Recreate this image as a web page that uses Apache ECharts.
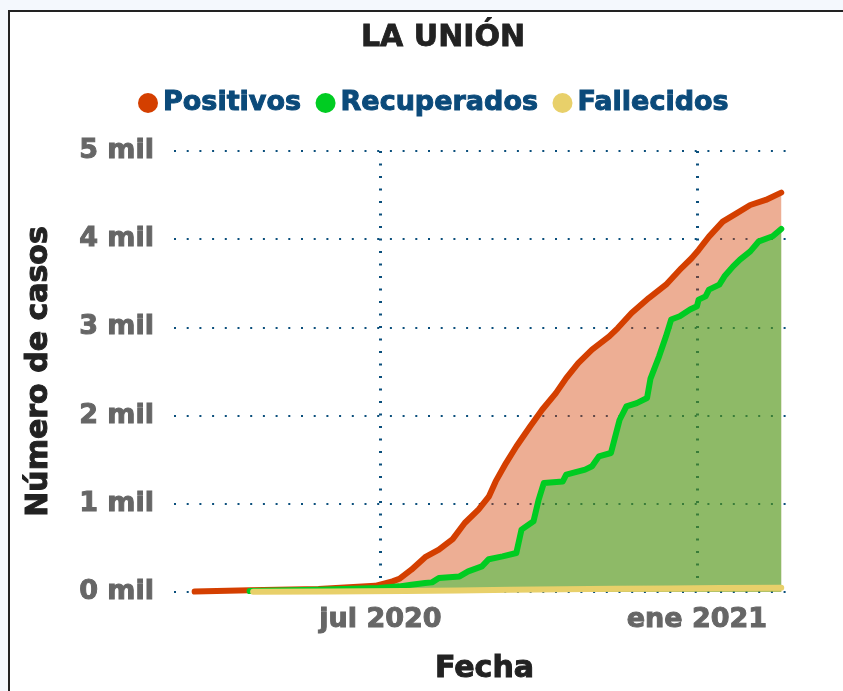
<!DOCTYPE html>
<html>
<head>
<meta charset="utf-8">
<script src="https://cdn.jsdelivr.net/npm/echarts@6/dist/echarts.min.js"></script>
<style>
html,body{margin:0;padding:0;background:#f4f8fd;}
#chart{width:843px;height:691px;}
</style>
</head>
<body>
<div id="chart"></div>
<script>
// datos (casos acumulados)
var posDates = ['2020-03-15','2020-04-16','2020-05-26','2020-06-28','2020-07-08','2020-07-12','2020-07-19','2020-07-27','2020-08-04','2020-08-12','2020-08-19','2020-08-27','2020-09-02','2020-09-06','2020-09-12','2020-09-18','2020-09-26','2020-10-03','2020-10-11','2020-10-17','2020-10-24','2020-11-01','2020-11-11','2020-11-16','2020-11-24','2020-12-04','2020-12-14','2020-12-23','2020-12-29','2021-01-02','2021-01-08','2021-01-16','2021-01-24','2021-02-01','2021-02-10','2021-02-19'];
var posVals = [5,20,35,70,120,150,253,395,480,600,782,933,1081,1254,1462,1650,1877,2066,2255,2425,2595,2747,2897,2993,3163,3333,3484,3673,3787,3878,4029,4199,4293,4388,4445,4528];

var recDates = ['2020-04-16','2020-05-26','2020-06-30','2020-07-12','2020-07-19','2020-07-27','2020-07-31','2020-08-04','2020-08-16','2020-08-21','2020-08-29','2020-09-02','2020-09-10','2020-09-18','2020-09-21','2020-09-28','2020-10-01','2020-10-04','2020-10-15','2020-10-17','2020-10-28','2020-11-01','2020-11-05','2020-11-12','2020-11-14','2020-11-17','2020-11-21','2020-11-27','2020-12-03','2020-12-05','2020-12-10','2020-12-14','2020-12-17','2020-12-22','2020-12-28','2021-01-01','2021-01-02','2021-01-06','2021-01-08','2021-01-14','2021-01-17','2021-01-22','2021-01-26','2021-02-01','2021-02-06','2021-02-14','2021-02-19'];
var recVals = [10,25,45,64,83,102,109,159,177,234,291,372,404,442,707,802,1048,1237,1254,1330,1387,1425,1538,1576,1727,1950,2104,2142,2199,2420,2672,2899,3089,3126,3202,3239,3315,3352,3428,3485,3579,3692,3768,3862,3976,4033,4116];

var falDates = ['2020-04-18','2020-06-01','2020-07-15','2020-08-15','2020-09-15','2020-10-15','2020-11-15','2020-12-15','2021-01-15','2021-02-19'];
var falVals = [2,5,10,18,25,31,36,40,44,48];

var xTicks = ['2020-07-01','2021-01-01'];
var xTickLabels = ['jul 2020','ene 2021'];
var yTicks = [0,1000,2000,3000,4000,5000];

function ts(s){
    var p = s.split('-');
    return new Date(+p[0], +p[1]-1, +p[2]).getTime();
}
function zip(d, v){
    var out = [];
    for(let i in d){
        out.push([ts(d[i]), v[i]]);
    }
    return out;
}

var font = 'DejaVu Sans';
var tickTs = xTicks.map(ts);

let chart = echarts.init(document.getElementById("chart"));

option = {
    backgroundColor: '#f4f8fd',
    animation: false,
    graphic: [{
        type: 'rect',
        z: -10,
        shape: {x: 9, y: 11, width: 900, height: 700},
        style: {fill: '#ffffff', stroke: '#222222', lineWidth: 2}
    }],
    title: {
        text: 'LA UNIÓN',
        left: 438,
        top: 18,
        textAlign: 'center',
        textStyle: {fontFamily: font, fontWeight: 'bold', fontSize: 30, color: '#222222',
            textBorderColor: '#222222', textBorderWidth: 0.8}
    },
    legend: {
        data: ['Positivos','Recuperados','Fallecidos'],
        left: 133,
        top: 84,
        icon: 'circle',
        itemWidth: 20,
        itemHeight: 20,
        itemGap: 14,
        textStyle: {fontFamily: font, fontWeight: 'bold', fontSize: 27, color: '#0b4a7a',
            textBorderColor: '#0b4a7a', textBorderWidth: 1}
    },
    grid: {left: 174, right: 48, top: 151, bottom: 99},
    xAxis: {
        type: 'value',
        min: ts('2020-03-03'),
        max: ts('2021-02-27'),
        name: 'Fecha',
        nameLocation: 'middle',
        nameGap: 62,
        nameTextStyle: {fontFamily: font, fontWeight: 'bold', fontSize: 30, color: '#222222',
            textBorderColor: '#222222', textBorderWidth: 1},
        axisLine: {show: false},
        axisTick: {show: false, customValues: tickTs},
        axisLabel: {
            customValues: tickTs,
            margin: 14,
            fontFamily: font, fontWeight: 'bold', fontSize: 27, color: '#666666',
            textBorderColor: '#666666', textBorderWidth: 1,
            formatter: function(v){
                var i = tickTs.indexOf(v);
                return i >= 0 ? xTickLabels[i] : '';
            }
        },
        splitLine: {
            show: true,
            lineStyle: {color: '#0b4f7c', width: 3, type: [2, 10.5]}
        }
    },
    yAxis: {
        type: 'value',
        min: yTicks[0],
        max: yTicks[yTicks.length-1],
        interval: 1000,
        name: 'Número de casos',
        nameLocation: 'middle',
        nameGap: 120,
        nameTextStyle: {fontFamily: font, fontWeight: 'bold', fontSize: 30, color: '#222222',
            textBorderColor: '#222222', textBorderWidth: 1},
        axisLine: {show: false},
        axisTick: {show: false},
        axisLabel: {
            margin: 20,
            fontFamily: font, fontWeight: 'bold', fontSize: 27, color: '#666666',
            textBorderColor: '#666666', textBorderWidth: 1,
            formatter: function(v){ return (v/1000) + ' mil'; }
        },
        splitLine: {
            lineStyle: {color: '#0b4f7c', width: 2, type: [2, 10.7]}
        }
    },
    series: [{
        name: 'Positivos',
        type: 'line',
        data: zip(posDates, posVals),
        showSymbol: false,
        color: '#d43f00',
        lineStyle: {width: 6, cap: 'round', join: 'round'},
        areaStyle: {opacity: 0.42}
    },{
        name: 'Recuperados',
        type: 'line',
        data: zip(recDates, recVals),
        showSymbol: false,
        color: '#00cc22',
        lineStyle: {width: 6, cap: 'round', join: 'round'},
        areaStyle: {opacity: 0.4}
    },{
        name: 'Fallecidos',
        type: 'line',
        data: zip(falDates, falVals),
        showSymbol: false,
        color: '#e8d06a',
        lineStyle: {width: 6, cap: 'round', join: 'round'},
        areaStyle: {opacity: 0.4}
    }]
};

chart.setOption(option);
</script>
</body>
</html>
